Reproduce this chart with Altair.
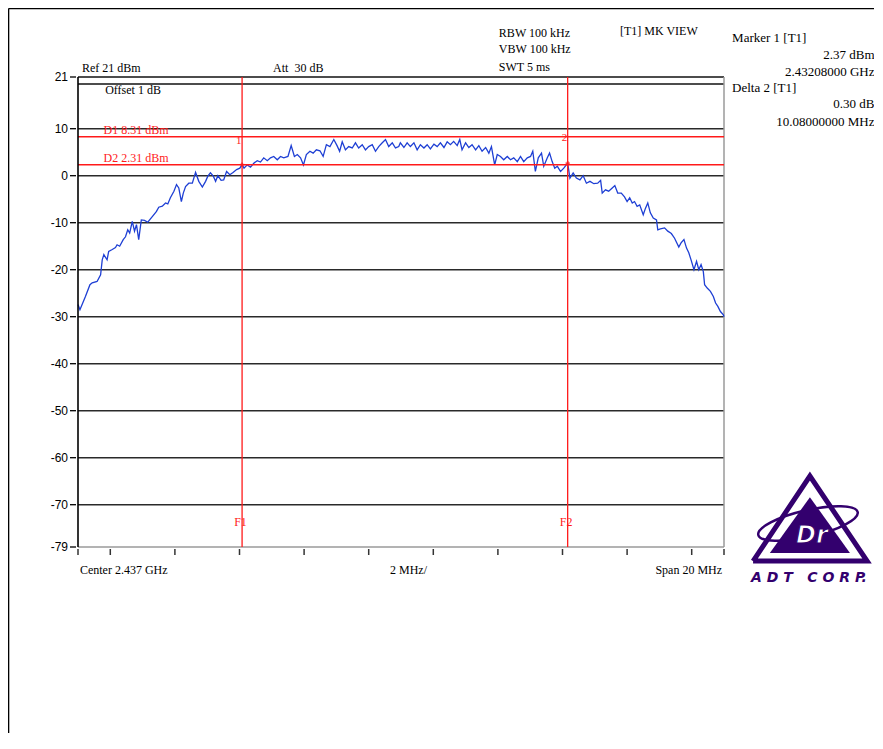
import altair as alt
import pandas as pd

# ---------------- data ----------------
START_GHZ = 2.427  # left edge of the 20 MHz span

# trace: frequency offset from left edge (MHz) and level (dBm)
freq_mhz = [0.00, 0.06, 0.23, 0.37, 0.44, 0.59, 0.70, 0.75, 0.80, 0.90,
            0.95, 1.06, 1.16, 1.21, 1.29, 1.40, 1.47, 1.54, 1.60, 1.68,
            1.75, 1.81, 1.88, 1.96, 2.06, 2.16, 2.30, 2.43, 2.50, 2.61,
            2.71, 2.78, 2.86, 2.97, 3.05, 3.12, 3.20, 3.26, 3.33, 3.43,
            3.54, 3.64, 3.74, 3.85, 3.95, 4.02, 4.10, 4.19, 4.26, 4.33,
            4.43, 4.51, 4.60, 4.70, 4.80, 4.91, 5.01, 5.08, 5.14, 5.24,
            5.34, 5.45, 5.55, 5.65, 5.75, 5.86, 5.96, 6.06, 6.17, 6.27,
            6.37, 6.50, 6.60, 6.70, 6.79, 6.89, 6.98, 7.07, 7.18, 7.28,
            7.38, 7.49, 7.59, 7.69, 7.80, 7.92, 8.02, 8.10, 8.18, 8.28,
            8.38, 8.49, 8.59, 8.69, 8.80, 8.90, 9.00, 9.11, 9.21, 9.31,
            9.42, 9.52, 9.62, 9.73, 9.83, 9.93, 9.98, 10.09, 10.19, 10.29,
            10.40, 10.50, 10.60, 10.71, 10.81, 10.91, 11.02, 11.12, 11.22, 11.33,
            11.43, 11.53, 11.63, 11.74, 11.82, 11.89, 12.00, 12.10, 12.20, 12.31,
            12.41, 12.51, 12.62, 12.72, 12.80, 12.90, 12.98, 13.08, 13.18, 13.29,
            13.39, 13.49, 13.60, 13.70, 13.80, 13.91, 14.01, 14.08, 14.16, 14.25,
            14.35, 14.42, 14.53, 14.60, 14.68, 14.76, 14.84, 14.94, 15.04, 15.16,
            15.23, 15.33, 15.43, 15.54, 15.64, 15.74, 15.85, 15.97, 16.09, 16.18,
            16.23, 16.33, 16.43, 16.54, 16.62, 16.71, 16.82, 16.92, 17.00, 17.08,
            17.16, 17.23, 17.31, 17.39, 17.50, 17.57, 17.64, 17.72, 17.81, 17.91,
            17.95, 18.03, 18.16, 18.26, 18.37, 18.47, 18.60, 18.67, 18.76, 18.84,
            18.91, 18.98, 19.07, 19.15, 19.22, 19.29, 19.36, 19.40, 19.48, 19.58,
            19.67, 19.74, 19.81, 19.89, 19.98, 20.00]

level_dbm = [-27.4, -28.5, -25.7, -23.2, -22.8, -22.5, -21.1, -17.9, -16.8, -17.9,
             -16.1, -15.7, -15.3, -14.7, -15.0, -13.6, -13.0, -11.5, -12.2, -9.7,
             -11.8, -10.4, -13.6, -9.4, -9.5, -9.9, -8.7, -7.6, -6.7, -6.5,
             -5.8, -6.0, -4.7, -3.3, -1.9, -2.6, -5.5, -3.7, -2.3, -1.6,
             -1.6, 0.7, -1.2, -2.4, -1.2, -0.1, 0.6, -0.1, -1.2, 0.0,
             -1.0, -0.9, 0.9, 0.2, 0.7, 1.3, 1.6, 2.37, 1.6, 2.3,
             1.8, 2.7, 3.2, 2.9, 3.8, 3.2, 3.8, 4.1, 3.4, 4.1,
             3.8, 4.1, 6.4, 4.1, 4.5, 3.8, 2.3, 4.5, 5.2, 4.8,
             5.5, 5.3, 4.1, 6.6, 6.2, 7.7, 6.4, 5.2, 7.2, 5.5,
             6.2, 5.9, 7.0, 5.9, 6.6, 5.5, 6.2, 6.6, 5.2, 6.2,
             7.0, 7.7, 6.2, 7.0, 5.9, 6.2, 7.0, 6.0, 7.0, 6.2,
             7.0, 5.5, 6.6, 5.9, 6.6, 5.7, 6.7, 6.2, 7.0, 6.0,
             7.2, 6.6, 7.3, 6.4, 7.7, 5.5, 7.0, 6.0, 6.6, 5.5,
             6.4, 5.2, 6.0, 4.8, 6.2, 2.3, 4.5, 4.1, 3.4, 4.1,
             3.4, 3.8, 3.0, 4.1, 3.0, 3.8, 4.1, 5.2, 0.9, 3.8,
             4.8, 2.0, 3.8, 4.8, 3.0, 1.6, 2.0, 0.9, 1.6, 2.67,
             -0.5, 0.6, -0.5, -0.9, 0.0, -1.6, -1.2, -1.7, -1.6, -1.0,
             -3.7, -3.0, -3.3, -2.6, -2.1, -3.7, -3.7, -4.5, -5.5, -4.7,
             -5.8, -5.5, -6.5, -6.2, -8.3, -6.9, -5.8, -7.9, -9.0, -9.4,
             -11.5, -11.3, -11.1, -11.8, -12.3, -13.3, -15.2, -14.3, -13.6, -15.4,
             -16.4, -17.9, -20.0, -18.2, -20.0, -18.9, -20.4, -23.2, -23.9, -24.6,
             -25.7, -27.1, -27.8, -28.9, -29.6, -30.0]

y_tick_values = [21, 10, 0, -10, -20, -30, -40, -50, -60, -70, -79]
grid_levels = [10, 0, -10, -20, -30, -40, -50, -60, -70]
x_tick_values = [0, 1, 3, 5, 7, 9, 11, 13, 15, 17, 19, 20]

display_lines_dbm = [8.31, 2.31]
display_line_names = ["D1", "D2"]
freq_line_names = ["F1", "F2"]
marker_names = ["1", "2"]
marker_freq_mhz = [5.08, 15.16]
marker_level_dbm = [2.37, 2.67]

# ---------------- helpers ----------------
SERIF = "Liberation Serif"
SANS = "Liberation Sans"
RED = "#ff1a1a"
BLUE = "#1e3fd4"
PURPLE = "#33006e"
NB = "\u00a0"
Y_MIN, Y_MAX = -79, 21
X_MIN, X_MAX = 0, 20

XS = alt.Scale(domain=[X_MIN, X_MAX], nice=False, zero=False)
YS = alt.Scale(domain=[Y_MIN, Y_MAX], nice=False, zero=False)


def X(field):
    return alt.X(f"{field}:Q", scale=XS, axis=None)


def Y(field):
    return alt.Y(f"{field}:Q", scale=YS, axis=None)


def text_layer(df, align, size, color="black", font=SERIF, **kw):
    return alt.Chart(df).mark_text(
        align=align, baseline="middle", fontSize=size, color=color, font=font, **kw
    ).encode(x=X("f"), y=Y("v"), text="t:N")


# ---------------- axes (drawn with the chart's own scales) ----------------
ydom_df = pd.DataFrame({"f": [X_MIN], "v": [Y_MAX], "v2": [Y_MIN]})
y_domain = alt.Chart(ydom_df).mark_rule(color="black", strokeWidth=1.6).encode(
    x=X("f"), y=Y("v"), y2="v2")
xdom_df = pd.DataFrame({"f": [X_MIN], "f2": [X_MAX], "v": [Y_MIN]})
x_domain = alt.Chart(xdom_df).mark_rule(color="#9a9a9a", strokeWidth=1.6).encode(
    x=X("f"), x2="f2", y=Y("v"))
right_df = pd.DataFrame({"f": [X_MAX], "v": [Y_MAX], "v2": [Y_MIN]})
right_border = alt.Chart(right_df).mark_rule(color="#9a9a9a", strokeWidth=1.5).encode(
    x=X("f"), y=Y("v"), y2="v2")

ytick_df = pd.DataFrame({"f": X_MIN, "v": y_tick_values,
                         "t": [str(v) for v in y_tick_values]})
y_ticks = alt.Chart(ytick_df).mark_tick(orient="horizontal", size=6, thickness=1.3,
                                        color="black", xOffset=-5, opacity=1).encode(
    x=X("f"), y=Y("v"))
y_labels = alt.Chart(ytick_df).mark_text(align="right", baseline="middle", dx=-10,
                                         font=SANS, fontSize=12, color="black").encode(
    x=X("f"), y=Y("v"), text="t:N")

xtick_df = pd.DataFrame({"f": x_tick_values, "v": Y_MIN})
x_ticks = alt.Chart(xtick_df).mark_tick(orient="vertical", size=6, thickness=1.5,
                                        color="#333333", yOffset=5, opacity=1).encode(
    x=X("f"), y=Y("v"))

# ---------------- frame of the screenshot ----------------
frame_v = pd.DataFrame({"f": [-2.15], "v": [35.55], "v2": [-140.0]})
frame_h = pd.DataFrame({"f": [-2.15], "f2": [30.0], "v": [35.55]})
frame_left = alt.Chart(frame_v).mark_rule(color="black", strokeWidth=1.5).encode(
    x=X("f"), y=Y("v"), y2="v2")
frame_top = alt.Chart(frame_h).mark_rule(color="black", strokeWidth=1.5).encode(
    x=X("f"), x2="f2", y=Y("v"))

# ---------------- grid ----------------
grid_df = pd.DataFrame({"v": grid_levels, "f": X_MIN, "f2": X_MAX})
grid = alt.Chart(grid_df).mark_rule(color="#2a2a2a", strokeWidth=1.6).encode(
    x=X("f"), x2="f2", y=Y("v"))

top_df = pd.DataFrame({"v": [Y_MAX, 19.5], "f": X_MIN, "f2": X_MAX})
top_lines = alt.Chart(top_df).mark_rule(color="#111111", strokeWidth=1.5).encode(
    x=X("f"), x2="f2", y=Y("v"))

# ---------------- trace ----------------
trace_df = pd.DataFrame({"f": freq_mhz, "v": level_dbm, "i": range(len(freq_mhz))})
trace = alt.Chart(trace_df).mark_line(color=BLUE, strokeWidth=1.3).encode(
    x=X("f"), y=Y("v"), order="i:Q")

# ---------------- display / frequency lines ----------------
dline_df = pd.DataFrame({"v": display_lines_dbm, "f": X_MIN, "f2": X_MAX})
dlines = alt.Chart(dline_df).mark_rule(color=RED, strokeWidth=1.5).encode(
    x=X("f"), x2="f2", y=Y("v"))

fline_df = pd.DataFrame({"f": marker_freq_mhz, "v": Y_MAX, "v2": Y_MIN})
flines = alt.Chart(fline_df).mark_rule(color=RED, strokeWidth=1.3).encode(
    x=X("f"), y=Y("v"), y2="v2")

mk_df = pd.DataFrame({"f": marker_freq_mhz, "v": marker_level_dbm})
markers = alt.Chart(mk_df).mark_point(shape="cross", size=18, color=RED,
                                      filled=True).encode(x=X("f"), y=Y("v"))

# ---------------- annotations ----------------
center_ghz = START_GHZ + 0.010
hdr = pd.DataFrame({
    "t": ["Ref 21 dBm", f"Att{NB}{NB}30 dB", "Offset 1 dB", "RBW 100 kHz",
          "VBW 100 kHz", "SWT 5 ms", "[T1] MK VIEW",
          f"Center {center_ghz:.3f} GHz", "2 MHz/"],
    "f": [0.12, 6.04, 0.84, 13.03, 13.03, 13.03, 16.78, 0.06, 9.66],
    "v": [22.9, 22.9, 18.2, 30.4, 27.0, 23.1, 30.8, -83.9, -83.9],
})
span_df = pd.DataFrame({"t": ["Span 20 MHz"], "f": [19.94], "v": [-83.9]})

m1_ghz = START_GHZ + marker_freq_mhz[0] / 1000
delta_db = marker_level_dbm[1] - marker_level_dbm[0]
delta_mhz = marker_freq_mhz[1] - marker_freq_mhz[0]
panel_left = pd.DataFrame({"t": ["Marker 1 [T1]", "Delta 2 [T1]"],
                           "f": [20.25, 20.25], "v": [29.3, 18.7]})
panel_right = pd.DataFrame({
    "t": [f"{marker_level_dbm[0]:.2f} dBm", f"{m1_ghz:.8f} GHz",
          f"{delta_db:.2f} dB", f"{delta_mhz:.8f} MHz"],
    "f": [24.66] * 4,
    "v": [25.7, 22.1, 15.3, 11.4],
})

dlabel_df = pd.DataFrame({
    "t": [f"{n} {v:.2f} dBm" for n, v in zip(display_line_names, display_lines_dbm)],
    "f": [0.79, 0.79], "v": [9.7, 3.8]})
flabel_df = pd.DataFrame({"t": freq_line_names,
                          "f": [m - 0.05 for m in marker_freq_mhz], "v": [-73.7, -73.7]})
mlabel_df = pd.DataFrame({"t": marker_names,
                          "f": [m - 0.1 for m in marker_freq_mhz], "v": [7.3, 8.0]})

texts = [
    text_layer(hdr, "left", 12),
    text_layer(span_df, "right", 12),
    text_layer(panel_left, "left", 13),
    text_layer(panel_right, "right", 13),
    text_layer(dlabel_df, "left", 12, RED),
    text_layer(flabel_df, "center", 12, RED),
    text_layer(mlabel_df, "center", 11, RED),
]

# ---------------- logo ----------------
tri_df = pd.DataFrame({"f": [20.90, 22.66, 24.43, 20.90],
                       "v": [-82.0, -63.9, -82.0, -82.0], "i": [0, 1, 2, 3]})
logo_outline = alt.Chart(tri_df).mark_line(color=PURPLE, strokeWidth=5,
                                           strokeJoin="miter").encode(
    x=X("f"), y=Y("v"), order="i:Q")
inner_df = pd.DataFrame({"f": [21.42, 22.66, 23.90], "v": [-80.3, -68.4, -80.3],
                         "b": [-80.3, -80.3, -80.3]})
logo_inner = alt.Chart(inner_df).mark_area(color=PURPLE, opacity=1).encode(
    x=X("f"), y=Y("v"), y2="b")
ell_df = pd.DataFrame({"f": [22.60], "v": [-74.0]})
logo_orbit = alt.Chart(ell_df).mark_point(
    shape="M -1 0 A 1 0.26 0 1 1 1 0 A 1 0.26 0 1 1 -1 0 Z",
    size=10400, filled=False, color=PURPLE, strokeWidth=2.5, angle=347, opacity=1
).encode(x=X("f"), y=Y("v"))
dr_df = pd.DataFrame({"t": ["Dr"], "f": [22.72], "v": [-76.6]})
logo_dr = alt.Chart(dr_df).mark_text(
    font="DejaVu Sans", fontSize=24, fontWeight="bold", fontStyle="italic",
    color="white", stroke=PURPLE, strokeWidth=1.2, align="center", baseline="middle"
).encode(x=X("f"), y=Y("v"), text="t:N")
adt_df = pd.DataFrame({"t": [NB.join("ADT") + NB * 3 + NB.join("CORP") + "."],
                       "f": [22.63], "v": [-85.6]})
logo_text = alt.Chart(adt_df).mark_text(
    font="DejaVu Sans", fontSize=14, fontWeight="bold", fontStyle="italic",
    color=PURPLE, align="center", baseline="middle"
).encode(x=X("f"), y=Y("v"), text="t:N")

chart = alt.layer(
    frame_left, frame_top, grid, top_lines, x_domain, right_border,
    x_ticks, y_ticks, y_labels, trace,
    dlines, flines, y_domain, markers, *texts,
    logo_outline, logo_orbit, logo_inner, logo_dr, logo_text,
).properties(
    width=646, height=470,
    autosize=alt.AutoSizeParams(type="none"),
    padding={"left": 70, "top": 69, "right": 150, "bottom": 186},
    background="white",
).configure_view(stroke=None)

chart.save("out.html", embed_options={"renderer": "svg", "actions": False})
